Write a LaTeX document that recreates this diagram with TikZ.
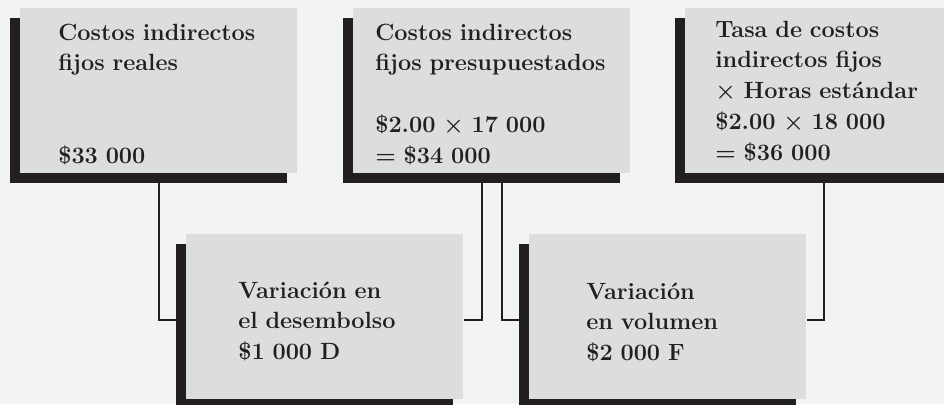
\documentclass[tikz,border=0pt]{standalone}
\usepackage{tikz}
\usetikzlibrary{shadows}
\definecolor{pagegray}{RGB}{242,244,244}
\definecolor{boxgray}{RGB}{220,221,223}
\definecolor{inkblack}{RGB}{35,31,32}

\begin{document}
\begin{tikzpicture}[
		x=0.025cm, y=-0.025cm,
		costbox/.style={fill=boxgray, minimum width=6.925cm, minimum height=4.125cm,
			inner sep=0pt, anchor=north west,
			general shadow={fill=inkblack, shadow xshift=-0.25cm, shadow yshift=-0.25cm}},
		boxtext/.style={anchor=base west, text width=6.5cm, align=left, inner sep=0pt,
			font=\fontsize{16.7}{22}\selectfont\bfseries, text=inkblack},
		link/.style={draw=inkblack, line width=1.4pt}
	]
		\fill[pagegray] (0,0) rectangle (944,404);
		\useasboundingbox (0,0) rectangle (944,404);
		% top row
		\node[costbox] (real) at (20,8) {};
		\node[costbox] (budget) at (353,8) {};
		\node[costbox] (applied) at (685,8) {};
		% bottom row
		\node[costbox] (spend) at (186,234) {};
		\node[costbox] (volume) at (529,234) {};
		\draw[link] (real.south) |- ([yshift=-0.075cm]spend.west);
		\draw[link] ([xshift=-0.25cm]budget.south) |- ([yshift=-0.075cm]spend.east);
		\draw[link] ([xshift=0.25cm]budget.south) |- ([yshift=-0.075cm]volume.west);
		\draw[link] (applied.south) |- ([yshift=-0.075cm]volume.east);
		% texts
		\node[boxtext] (realtxt) at (58,40) {Costos indirectos\\fijos reales\\[44pt]\$33~000};
		\node[boxtext] (budgettxt) at (375,40) {Costos indirectos\\fijos presupuestados\\[22pt]\$2.00 × 17~000\\= \$34~000};
		\node[boxtext] (appliedtxt) at (715,37) {Tasa de costos\\indirectos fijos\\× Horas estándar\\\$2.00 × 18~000\\= \$36~000};
		\node[boxtext] (spendtxt) at (238,298) {Variación en\\el desembolso\\\$1~000 D};
		\node[boxtext] (volumetxt) at (586,299) {Variación\\en volumen\\\$2~000 F};
	\end{tikzpicture}
\end{document}
